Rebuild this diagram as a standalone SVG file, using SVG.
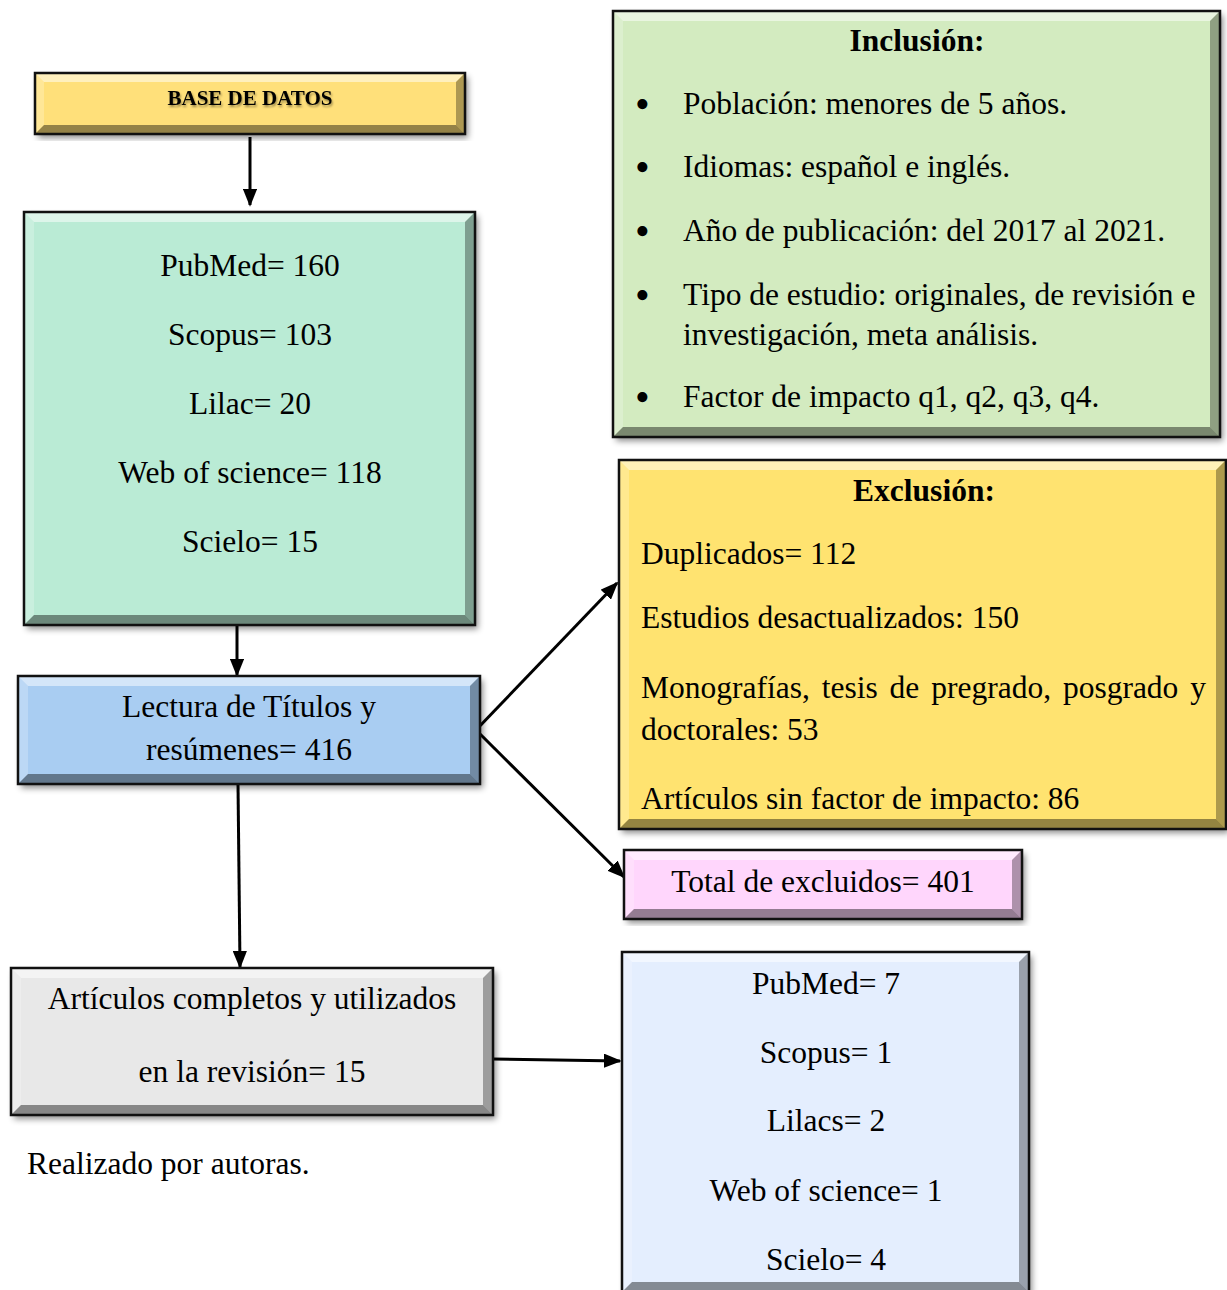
<svg xmlns="http://www.w3.org/2000/svg" width="1227" height="1290" viewBox="0 0 1227 1290">
<defs>
<filter id="sh" x="-5%" y="-5%" width="115%" height="115%">
<feDropShadow dx="3" dy="4" stdDeviation="3" flood-color="#000" flood-opacity="0.45"/>
</filter>
<filter id="tsh" x="-5%" y="-20%" width="110%" height="150%">
<feDropShadow dx="1" dy="2" stdDeviation="1" flood-color="#000" flood-opacity="0.4"/>
</filter>
<marker id="ah" viewBox="0 0 10 8" refX="9" refY="4" markerWidth="6" markerHeight="4.8" orient="auto" markerUnits="strokeWidth">
<path d="M0,0 L10,4 L0,8 z" fill="#000"/>
</marker>
</defs>
<style>
text{font-family:"Liberation Serif","Times New Roman",serif;font-size:31.5px;fill:#000}
.c{text-anchor:middle}
.b{font-weight:bold}
.bu{font-size:42px}
.lt{fill:#fff;fill-opacity:0.5}
.ll{fill:#fff;fill-opacity:0.22}
.dr{fill:#000;fill-opacity:0.32}
.db{fill:#000;fill-opacity:0.42}
.bd{fill:none;stroke:#111;stroke-width:2.5}
.cn{fill:none;stroke:#000;stroke-width:3;marker-end:url(#ah)}
</style>

<g id="connectors">
<line class="cn" x1="250" y1="137" x2="250" y2="205"/>
<line class="cn" x1="237" y1="625" x2="237" y2="675"/>
<line class="cn" x1="476" y1="730" x2="617" y2="583"/>
<line class="cn" x1="476" y1="730" x2="624" y2="877"/>
<line class="cn" x1="238" y1="784" x2="240" y2="967"/>
<line class="cn" x1="493" y1="1059" x2="620" y2="1061"/>
</g>

<g id="base-datos">
<rect x="35" y="73" width="430" height="61" fill="#FFE07A" filter="url(#sh)"/>
<polygon class="lt" points="35,73 465,73 456,82 44,82"/>
<polygon class="ll" points="35,73 44,82 44,125 35,134"/>
<polygon class="dr" points="465,73 465,134 456,125 456,82"/>
<polygon class="db" points="35,134 44,125 456,125 465,134"/>
<rect class="bd" x="35" y="73" width="430" height="61"/>
<text class="c b" x="250" y="105" style="font-size:21px" filter="url(#tsh)">BASE DE DATOS</text>
</g>

<g id="bases-resultados">
<rect x="24" y="212" width="451" height="413" fill="#BAEBD5" filter="url(#sh)"/>
<polygon class="lt" points="24,212 475,212 465,222 34,222"/>
<polygon class="ll" points="24,212 34,222 34,615 24,625"/>
<polygon class="dr" points="475,212 475,625 465,615 465,222"/>
<polygon class="db" points="24,625 34,615 465,615 475,625"/>
<rect class="bd" x="24" y="212" width="451" height="413"/>
<text class="c" x="250" y="276">PubMed= 160</text>
<text class="c" x="250" y="345">Scopus= 103</text>
<text class="c" x="250" y="414">Lilac= 20</text>
<text class="c" x="250" y="483">Web of science= 118</text>
<text class="c" x="250" y="552">Scielo= 15</text>
</g>

<g id="lectura">
<rect x="18" y="676" width="462" height="108" fill="#A9CDF2" filter="url(#sh)"/>
<polygon class="lt" points="18,676 480,676 470,686 28,686"/>
<polygon class="ll" points="18,676 28,686 28,774 18,784"/>
<polygon class="dr" points="480,676 480,784 470,774 470,686"/>
<polygon class="db" points="18,784 28,774 470,774 480,784"/>
<rect class="bd" x="18" y="676" width="462" height="108"/>
<text class="c" x="249" y="717">Lectura de Títulos y</text>
<text class="c" x="249" y="760">resúmenes= 416</text>
</g>

<g id="articulos">
<rect x="11" y="968" width="482" height="147" fill="#E8E8E8" filter="url(#sh)"/>
<polygon class="lt" points="11,968 493,968 483,978 21,978"/>
<polygon class="ll" points="11,968 21,978 21,1105 11,1115"/>
<polygon class="dr" points="493,968 493,1115 483,1105 483,978"/>
<polygon class="db" points="11,1115 21,1105 483,1105 493,1115"/>
<rect class="bd" x="11" y="968" width="482" height="147"/>
<text class="c" x="252" y="1009">Artículos completos y utilizados</text>
<text class="c" x="252" y="1082">en la revisión= 15</text>
</g>

<g id="inclusion">
<rect x="613" y="11" width="607" height="426" fill="#D3EBC0" filter="url(#sh)"/>
<polygon class="lt" points="613,11 1220,11 1210,21 623,21"/>
<polygon class="ll" points="613,11 623,21 623,427 613,437"/>
<polygon class="dr" points="1220,11 1220,437 1210,427 1210,21"/>
<polygon class="db" points="613,437 623,427 1210,427 1220,437"/>
<rect class="bd" x="613" y="11" width="607" height="426"/>
<text class="c b" x="917" y="51">Inclusión:</text>
<text class="bu" x="635" y="118">•</text>
<text x="683" y="114">Población: menores de 5 años.</text>
<text class="bu" x="635" y="181">•</text>
<text x="683" y="177">Idiomas: español e inglés.</text>
<text class="bu" x="635" y="245">•</text>
<text x="683" y="241">Año de publicación: del 2017 al 2021.</text>
<text class="bu" x="635" y="309">•</text>
<text x="683" y="305">Tipo de estudio: originales, de revisión e</text>
<text x="683" y="345">investigación, meta análisis.</text>
<text class="bu" x="635" y="411">•</text>
<text x="683" y="407">Factor de impacto q1, q2, q3, q4.</text>
</g>

<g id="exclusion">
<rect x="619" y="460" width="607" height="369" fill="#FFE36F" filter="url(#sh)"/>
<polygon class="lt" points="619,460 1226,460 1216,470 629,470"/>
<polygon class="ll" points="619,460 629,470 629,819 619,829"/>
<polygon class="dr" points="1226,460 1226,829 1216,819 1216,470"/>
<polygon class="db" points="619,829 629,819 1216,819 1226,829"/>
<rect class="bd" x="619" y="460" width="607" height="369"/>
<text class="c b" x="924" y="501">Exclusión:</text>
<text x="641" y="564">Duplicados= 112</text>
<text x="641" y="628">Estudios desactualizados: 150</text>
<text x="641" y="698" style="word-spacing:4px">Monografías, tesis de pregrado, posgrado y</text>
<text x="641" y="740">doctorales: 53</text>
<text x="641" y="809">Artículos sin factor de impacto: 86</text>
</g>

<g id="total-excluidos">
<rect x="624" y="850" width="398" height="69" fill="#FFD6FC" filter="url(#sh)"/>
<polygon class="lt" points="624,850 1022,850 1012,860 634,860"/>
<polygon class="ll" points="624,850 634,860 634,909 624,919"/>
<polygon class="dr" points="1022,850 1022,919 1012,909 1012,860"/>
<polygon class="db" points="624,919 634,909 1012,909 1022,919"/>
<rect class="bd" x="624" y="850" width="398" height="69"/>
<text class="c" x="823" y="892">Total de excluidos= 401</text>
</g>

<g id="bases-finales">
<rect x="622" y="952" width="407" height="340" fill="#E4EEFE" filter="url(#sh)"/>
<polygon class="lt" points="622,952 1029,952 1019,962 632,962"/>
<polygon class="ll" points="622,952 632,962 632,1282 622,1292"/>
<polygon class="dr" points="1029,952 1029,1292 1019,1282 1019,962"/>
<polygon class="db" points="622,1292 632,1282 1019,1282 1029,1292"/>
<rect class="bd" x="622" y="952" width="407" height="340"/>
<text class="c" x="826" y="994">PubMed= 7</text>
<text class="c" x="826" y="1063">Scopus= 1</text>
<text class="c" x="826" y="1131">Lilacs= 2</text>
<text class="c" x="826" y="1201">Web of science= 1</text>
<text class="c" x="826" y="1270">Scielo= 4</text>
</g>

<g id="nota">
<text x="27" y="1174">Realizado por autoras.</text>
</g>
</svg>
